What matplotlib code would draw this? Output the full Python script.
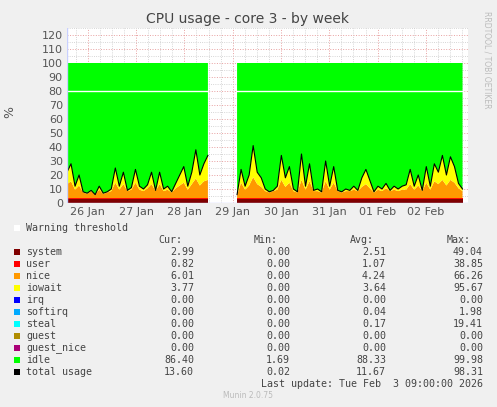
import matplotlib
matplotlib.use("Agg")
import matplotlib.pyplot as plt
import numpy as np

# x in days since 26 Jan 00:00, 2h steps
seg1_start = -0.43
seg2_start = 3.09
step = 2 / 24.0

seg1_total = [22, 28, 12, 20, 8, 7, 9, 6, 12, 7, 8, 10, 25, 12, 22, 9, 11, 24,
              12, 10, 13, 22, 9, 22, 10, 12, 8, 14, 20, 26, 12, 22, 38, 20, 28, 34]
seg1_nice = [10, 12, 6, 9, 4, 3, 5, 3, 6, 3, 4, 5, 11, 6, 10, 5, 6, 11,
             6, 5, 7, 10, 5, 10, 5, 6, 4, 7, 9, 11, 6, 10, 14, 9, 12, 13]
seg2_total = [6, 24, 12, 20, 41, 22, 18, 10, 8, 9, 12, 34, 18, 26, 10, 8, 35, 12, 28,
              9, 10, 8, 30, 12, 26, 9, 8, 10, 9, 12, 9, 18, 24, 16, 8, 12, 10, 14, 9,
              12, 10, 12, 13, 24, 12, 20, 9, 26, 12, 28, 22, 34, 20, 33, 26, 14, 10]
seg2_nice = [2, 11, 6, 9, 15, 10, 8, 5, 4, 5, 6, 13, 8, 11, 5, 4, 13, 6, 12,
             5, 5, 4, 12, 6, 11, 5, 4, 5, 5, 6, 5, 8, 10, 7, 4, 6, 5, 7, 5,
             6, 5, 6, 6, 10, 6, 9, 5, 11, 6, 12, 10, 13, 9, 13, 11, 7, 5]
system_level = 2.5
user_level = 1.0

colors = {"system": "#7f0000", "user": "#ff0000", "nice": "#ff9900",
          "iowait": "#ffff00", "irq": "#0000ff", "softirq": "#00aaff",
          "steal": "#00ffff", "guest": "#b08c00", "guest_nice": "#aa0077",
          "idle": "#00ff00", "total usage": "#000000"}

legend_rows = [
    ("system", "2.99", "0.00", "2.51", "49.04"),
    ("user", "0.82", "0.00", "1.07", "38.85"),
    ("nice", "6.01", "0.00", "4.24", "66.26"),
    ("iowait", "3.77", "0.00", "3.64", "95.67"),
    ("irq", "0.00", "0.00", "0.00", "0.00"),
    ("softirq", "0.00", "0.00", "0.04", "1.98"),
    ("steal", "0.00", "0.00", "0.17", "19.41"),
    ("guest", "0.00", "0.00", "0.00", "0.00"),
    ("guest_nice", "0.00", "0.00", "0.00", "0.00"),
    ("idle", "86.40", "1.69", "88.33", "99.98"),
    ("total usage", "13.60", "0.02", "11.67", "98.31"),
]
day_labels = ["26 Jan", "27 Jan", "28 Jan", "29 Jan", "30 Jan", "31 Jan", "01 Feb", "02 Feb"]

W, H = 497, 407
fig = plt.figure(figsize=(W / 100, H / 100), dpi=100, facecolor="#f0f0f0")
ax = fig.add_axes([67 / W, (H - 203) / H, 401 / W, 175 / H])
ax.set_facecolor("white")

for start, total, nice in [(seg1_start, seg1_total, seg1_nice), (seg2_start, seg2_total, seg2_nice)]:
    total = np.array(total, float)
    x = start + step * np.arange(len(total))
    sysv = np.minimum(total, system_level)
    usr = np.minimum(total - sysv, user_level)
    nic = np.minimum(total - sysv - usr, np.array(nice, float))
    iow = total - sysv - usr - nic
    ax.stackplot(x, sysv, usr, nic, iow, 100 - total,
                 colors=[colors["system"], colors["user"], colors["nice"],
                         colors["iowait"], colors["idle"]], linewidth=0, zorder=3)
    ax.plot(x, total, color="black", lw=0.8, zorder=4)
    ax.plot(x, [80] * len(x), color="white", lw=1, zorder=4)

ax.set_xlim(-0.43, 7.87)
ax.set_ylim(0, 125)
ax.set_yticks(range(0, 121, 10))
ax.set_xticks(range(8))
ax.set_xticklabels(day_labels)
ax.set_xticks(np.arange(-0.25, 7.9, 0.25), minor=True)
ax.set_yticks(range(0, 126, 5), minor=True)
ax.grid(which="minor", color="#c8c8c8", ls=":", lw=0.6, zorder=1)
ax.grid(which="major", color="#e8a0a0", ls=":", lw=0.7, zorder=1)
ax.set_axisbelow(True)
for s in ax.spines.values():
    s.set_visible(False)
ax.axhline(0, color="#c8d0ff", lw=1, zorder=5)
ax.axvline(-0.43, color="#c8d0ff", lw=1, zorder=5)
ax.tick_params(which="both", length=0, labelsize=8, colors="#555555", pad=3)

fig.text(248 / W, 1 - 19 / H, "CPU usage - core 3 - by week", ha="center", va="center",
         fontsize=10, color="#444444")
fig.text(10 / W, 1 - 112 / H, "%", rotation=90, ha="center", va="center", fontsize=9, color="#555555")
fig.text(487 / W, 1 - 60 / H, "RRDTOOL / TOBI OETIKER", rotation=270, ha="center", va="center",
         fontsize=5.5, color="#bbbbbb")

mono = dict(family="DejaVu Sans Mono", fontsize=7.2, color="#444444", va="center")
fig.patches.append(plt.Rectangle((14 / W, 1 - 231 / H), 6 / W, 6 / H, transform=fig.transFigure,
                                 facecolor="white", edgecolor="none"))
fig.text(26 / W, 1 - 228 / H, "Warning threshold", **mono)
cols = [194, 290, 386, 483]
for c, h in zip(cols, ["Cur:", "Min:", "Avg:", "Max:"]):
    fig.text((c - 12) / W, 1 - 240 / H, h, ha="right", **mono)
for i, row in enumerate(legend_rows):
    y = 252 + 12 * i
    fig.patches.append(plt.Rectangle((14 / W, 1 - (y + 3) / H), 6 / W, 6 / H, transform=fig.transFigure,
                                     facecolor=colors[row[0]], edgecolor="none"))
    fig.text(26 / W, 1 - y / H, row[0], **mono)
    for c, v in zip(cols, row[1:]):
        fig.text(c / W, 1 - y / H, v, ha="right", **mono)
fig.text(483 / W, 1 - 384 / H, "Last update: Tue Feb  3 09:00:00 2026", ha="right", **mono)
fig.text(248 / W, 1 - 396 / H, "Munin 2.0.75", ha="center", va="center", fontsize=5.5, color="#bbbbbb")

fig.savefig("out.png", dpi=100, facecolor=fig.get_facecolor())
